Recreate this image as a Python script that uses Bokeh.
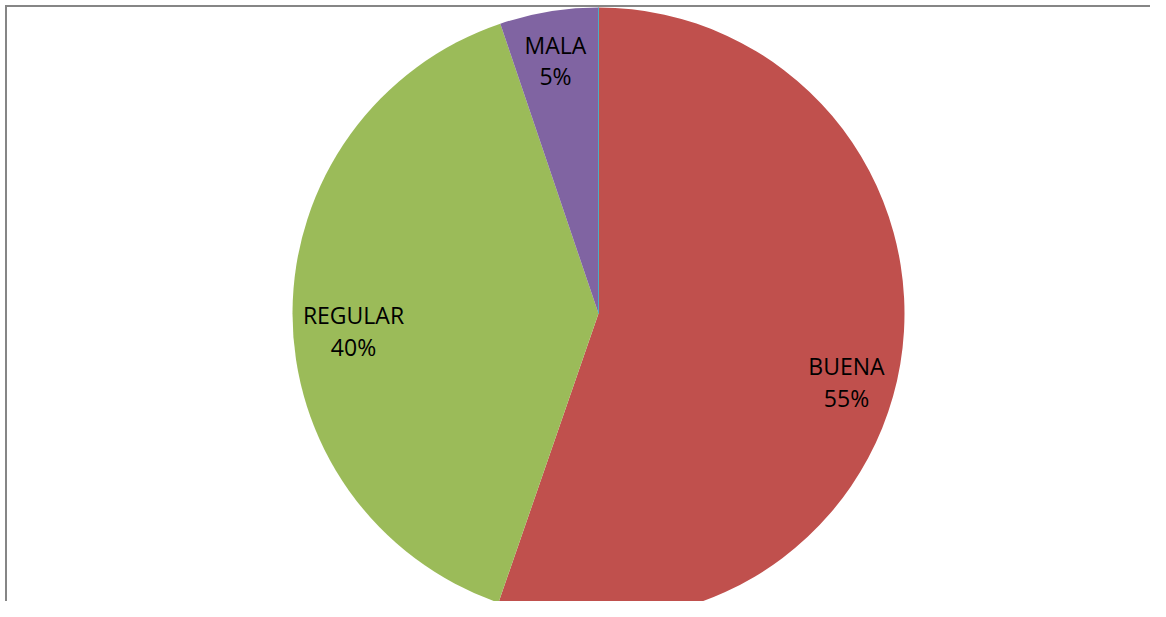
import math
from bokeh.plotting import figure
from bokeh.models import Range1d, ColumnDataSource
from bokeh.core.properties import value
from bokeh.embed import file_html
from bokeh.resources import INLINE

# ---- data ----
categories = ["BUENA", "REGULAR", "MALA"]
values = [55.3, 39.5, 5.2]
pct_labels = ["55%", "40%", "5%"]
colors = ["#C0504D", "#9BBB59", "#8064A2"]
zero_slice_color = "#4BACC6"

# ---- layout constants (pixels) ----
W, H = 1150, 601
CX, CY_PX = 598, 313
R = 306
FRAME = 5.5
# label centre offsets from pie centre (dx right, dy down), name line and pct line
label_dx = [248, -245, -43]
label_dy_name = [52, 1, -269]
label_dy_pct = [84, 33, -238]

p = figure(width=W, height=H, output_backend="svg", toolbar_location=None,
           x_range=Range1d(0, W), y_range=Range1d(0, H),
           x_axis_location=None, y_axis_location=None,
           min_border=0, min_border_left=0, min_border_right=0,
           min_border_top=0, min_border_bottom=0)
p.grid.visible = False
p.outline_line_color = None
p.background_fill_color = "white"
p.border_fill_color = "white"

cy = H - CY_PX
total = sum(values)
starts, ends = [], []
a = math.pi / 2
for v in values:
    starts.append(a)
    a = a - 2 * math.pi * v / total
    ends.append(a)

src = ColumnDataSource(dict(cat=categories, start=starts, end=ends, color=colors))
p.wedge(x=CX, y=cy, radius=R, start_angle="start", end_angle="end",
        direction="clock", fill_color="color", line_color=None, source=src)

# zero-value slice drawn as a thin line at the end of the cycle
p.segment(x0=CX, y0=cy, x1=CX + R * math.cos(a), y1=cy + R * math.sin(a),
          line_color=zero_slice_color, line_width=1)

# frame (left and top edges visible)
p.segment(x0=[FRAME, FRAME - 1], y0=[0, H - FRAME], x1=[FRAME, W], y1=[H - FRAME + 1, H - FRAME],
          line_color="#868686", line_width=2)

lsrc = ColumnDataSource(dict(
    x=[CX + d for d in label_dx],
    yn=[cy - d for d in label_dy_name],
    yp=[cy - d for d in label_dy_pct],
    name=categories, pct=pct_labels))
for ycol, tcol in (("yn", "name"), ("yp", "pct")):
    p.text(x="x", y=ycol, text=tcol, source=lsrc, text_align="center",
           text_baseline="middle", text_font=value("Open Sans"),
           text_font_size="23px", text_color="#000000")

open("out.html", "w").write(file_html(p, INLINE))
